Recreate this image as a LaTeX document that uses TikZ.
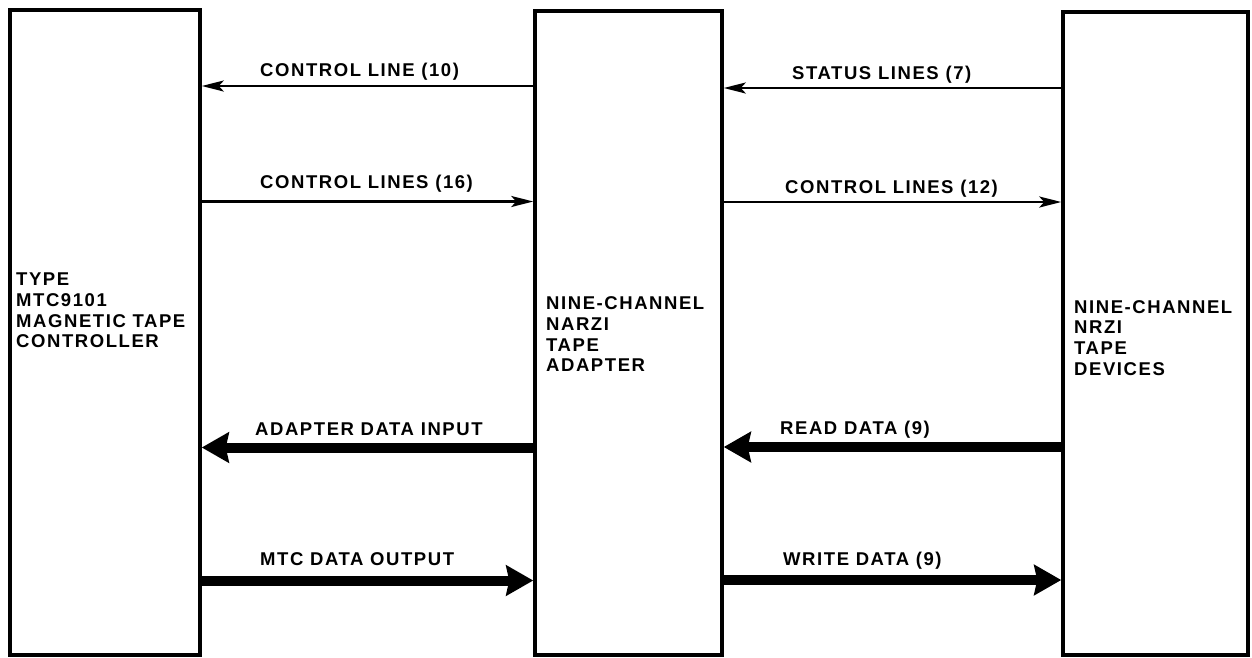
\documentclass[tikz,border=0pt]{standalone}
\usepackage{fontspec}
\setmainfont{Liberation Sans}[LetterSpace=8.5,UprightFont=* Bold]
\usetikzlibrary{arrows.meta}
\begin{document}
\begin{tikzpicture}[x=1pt,y=-1pt,
  font=\fontsize{18.5}{20.7}\selectfont,
  blockbox/.style={draw, line width=3.5pt, inner sep=0pt},
  lbl/.style={anchor=base west, inner sep=0pt},
  boxtext/.style={anchor=north west, inner sep=0pt, align=left},
  thinarrow/.style={line width=2.6pt, -{Stealth[length=22pt,width=11pt,inset=5pt]}},
  thickarrow/.style={line width=10pt, -{Stealth[length=27pt,width=30pt,inset=3pt]}}]
\useasboundingbox (0,0) rectangle (1252,657);
\node[blockbox, minimum width=190pt, minimum height=645pt] (left) at (105,332.5) {};
\node[blockbox, minimum width=187pt, minimum height=644pt] (mid) at (628.5,333) {};
\node[blockbox, minimum width=185pt, minimum height=643pt] (right) at (1155.5,333.5) {};
\node[boxtext] (lefttext) at (16,272.7) {TYPE\\MTC9101\\MAGNETIC TAPE\\CONTROLLER};
\node[boxtext] (midtext) at (546,296.7) {NINE-CHANNEL\\NARZI\\TAPE\\ADAPTER};
\node[boxtext] (righttext) at (1074,300) {NINE-CHANNEL\\NRZI\\TAPE\\DEVICES};
% thin arrows
\draw[thinarrow] (mid.west |- 0,86) -- (left.east |- 0,86);
\draw[thinarrow] (right.west |- 0,88) -- (mid.east |- 0,88);
\draw[thinarrow] (left.east |- 0,201.5) -- (mid.west |- 0,201.5);
\draw[thinarrow] (mid.east |- 0,202) -- (right.west |- 0,202);
% thick arrows
\draw[thickarrow] (mid.west |- 0,447.5) -- (left.east |- 0,447.5);
\draw[thickarrow] (right.west |- 0,447) -- (mid.east |- 0,447);
\draw[thickarrow] (left.east |- 0,580.5) -- (mid.west |- 0,580.5);
\draw[thickarrow] (mid.east |- 0,580) -- (right.west |- 0,580);
% labels
\node[lbl] (l1) at (260,76) {CONTROL LINE (10)};
\node[lbl] (l2) at (792,79) {STATUS LINES (7)};
\node[lbl] (l3) at (260,188.3) {CONTROL LINES (16)};
\node[lbl] (l4) at (785,193.3) {CONTROL LINES (12)};
\node[lbl] (l5) at (255,435) {ADAPTER DATA INPUT};
\node[lbl] (l6) at (780,434) {READ DATA (9)};
\node[lbl] (l7) at (260,565) {MTC DATA OUTPUT};
\node[lbl] (l8) at (783,565) {WRITE DATA (9)};
\end{tikzpicture}
\end{document}
